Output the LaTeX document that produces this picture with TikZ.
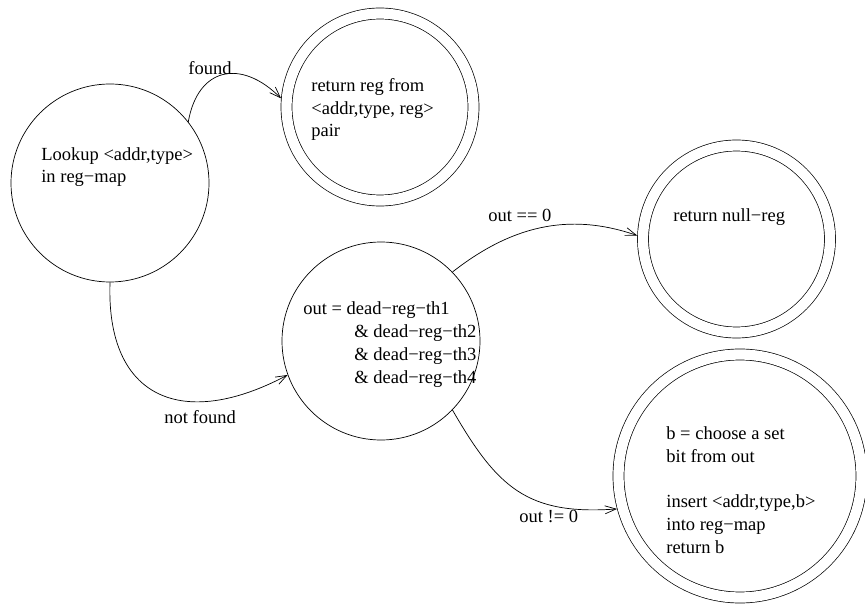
\documentclass[tikz,border=0pt]{standalone}
\usepackage{fontspec}
\setmainfont{Liberation Serif}
\usetikzlibrary{arrows.meta}

\begin{document}
\begin{tikzpicture}[x=1pt,y=1pt,>={Straight Barb[length=11pt,width=8pt]},
  font=\fontsize{18.5}{22.7}\selectfont,
  every node/.style={inner sep=0pt},
  line width=.7pt,
  state/.style={circle,draw,minimum size=198pt},
  final/.style={circle,draw,double,double distance=10.3pt,outer sep=5.85pt},
  txt/.style={anchor=base west,align=left}]
\path[use as bounding box] (0,0) rectangle (865,-604);

% states
\node[state] (lookup) at (110,-183) {};
\node[final,minimum size=187pt] (retreg) at (380,-107) {};
\node[state] (deadchk) at (381,-341) {};
\node[final,minimum size=187pt] (retnull) at (736.5,-239) {};
\node[final,minimum size=243pt] (setbit) at (740,-476) {};

% texts inside the states (base = last line)
\node[txt] (lookuptxt) at (41,-183) {Lookup <addr,type>\\in reg−map};
\node[txt] (retregtxt) at (311,-137) {return reg from\\<addr,type, reg>\\pair};
\node[txt] (deadchktxt) at (303,-383)
  {out = dead−reg−th1\\
   \hspace*{51pt}\& dead−reg−th2\\
   \hspace*{51pt}\& dead−reg−th3\\
   \hspace*{51pt}\& dead−reg−th4};
\node[txt] (retnulltxt) at (673,-222) {return null−reg};
\node[txt] (setbittxt) at (666,-553)
  {b = choose a set\\bit from out\\[22.7pt]
   insert <addr,type,b>\\into reg−map\\return b};

% transitions
\draw[->] (lookup.38) to[out=80,in=135,looseness=1.5] (retreg.175);
\draw[->] (lookup.270) to[out=268,in=208,looseness=1.5] (deadchk.200);
\draw[->] (deadchk.44) to[out=38,in=161] (retnull.178);
\draw[->] (deadchk.316) to[out=-60,in=184,looseness=1.2] (setbit.195);

\node[anchor=base west] (foundlbl) at (188,-75) {found};
\node[anchor=base west] (notfoundlbl) at (164,-423) {not found};
\node[anchor=base west] (zerolbl) at (488,-222) {out == 0};
\node[anchor=base west] (nonzerolbl) at (519,-522) {out != 0};
\end{tikzpicture}
\end{document}
